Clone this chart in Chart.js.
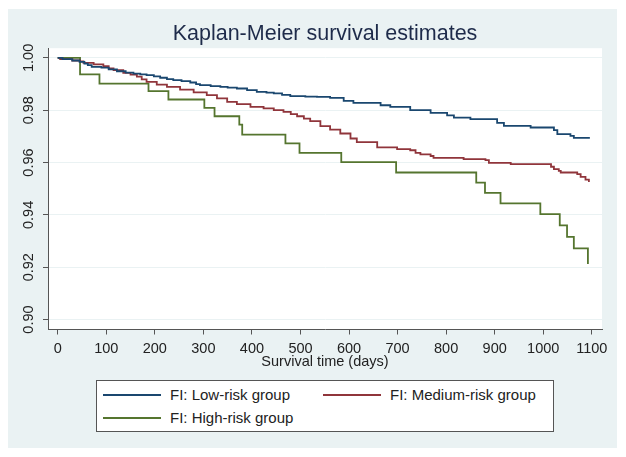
<!DOCTYPE html>
<html><head><meta charset="utf-8">
<script src="https://cdn.jsdelivr.net/npm/chart.js@4/dist/chart.umd.min.js"></script>
<style>
html,body{margin:0;padding:0;background:#fff;}
#wrap{position:relative;width:626px;height:457px;overflow:hidden;}
#bg{position:absolute;left:8px;top:9px;width:609px;height:439px;background:#eaf2f3;}
canvas{position:absolute;left:0;top:0;}
#legend{position:absolute;left:96px;top:380px;width:458px;height:52px;box-sizing:border-box;border:1px solid #555;background:#fff;font-family:"Liberation Sans",Arial,sans-serif;font-size:15px;color:#222;}
.item{position:absolute;height:20px;line-height:20px;white-space:nowrap;}
.swatch{position:absolute;left:0;top:9px;width:58px;height:2px;}
.lab{position:absolute;left:67px;top:0;}
</style></head>
<body>
<div id="wrap">
<div id="bg"></div>
<canvas id="c" width="626" height="457"></canvas>
<div id="legend"></div>
</div>
<script>
const xTickValues = [0,100,200,300,400,500,600,700,800,900,1000,1100];
const yTickValues = [0.90,0.92,0.94,0.96,0.98,1.00];
const yTickLabels = ['0.90','0.92','0.94','0.96','0.98','1.00'];
const seriesNames = ['FI: Low-risk group','FI: Medium-risk group','FI: High-risk group'];
const seriesColors = ['#1a476f','#90353b','#55752f'];

const lowTimes = [0,10,30,45,55,62,70,90,105,122,140,156,170,183,198,211,225,238,255,273,285,293,315,335,350,369,390,410,430,445,462,479,510,534,561,589,609,665,685,726,768,802,816,850,905,919,974,1022,1029,1056,1063,1096];
const lowSurv  = [1.000,0.9995,0.9990,0.9985,0.9978,0.9972,0.9966,0.9963,0.9956,0.9949,0.9944,0.9940,0.9937,0.9934,0.9929,0.9924,0.9919,0.9915,0.9911,0.9906,0.9900,0.9896,0.9892,0.9889,0.9886,0.9883,0.9877,0.9870,0.9867,0.9864,0.9859,0.9854,0.9852,0.9851,0.9847,0.9836,0.9828,0.9819,0.9813,0.9800,0.9790,0.9780,0.9772,0.9766,0.9752,0.9740,0.9734,0.9724,0.9709,0.9702,0.9694,0.9694];

const medTimes = [0,5,30,46,53,74,94,105,115,135,150,163,173,183,204,225,252,280,307,328,349,369,397,424,445,465,480,493,507,520,541,561,582,603,616,658,699,726,737,747,768,774,836,881,888,933,1016,1022,1032,1036,1070,1077,1087,1094];
const medSurv  = [1.000,0.9995,0.9990,0.9987,0.9981,0.9975,0.9968,0.9960,0.9953,0.9943,0.9936,0.9928,0.9918,0.9908,0.9898,0.9889,0.9879,0.9868,0.9858,0.9845,0.9832,0.9823,0.9813,0.9807,0.9800,0.9794,0.9785,0.9777,0.9768,0.9758,0.9739,0.9726,0.9711,0.9692,0.9678,0.9658,0.9651,0.9647,0.9637,0.9631,0.9625,0.9618,0.9613,0.9609,0.9599,0.9594,0.9584,0.9575,0.9568,0.9562,0.9556,0.9545,0.9535,0.9526];

const highTimes = [0,46,86,187,228,302,323,374,380,469,498,584,697,862,880,912,994,1034,1049,1063,1092];
const highSurv  = [1.000,0.9937,0.9902,0.9873,0.9841,0.9809,0.9777,0.9745,0.9707,0.9673,0.9637,0.9602,0.9562,0.9523,0.9484,0.9444,0.9403,0.9360,0.9316,0.9272,0.9212];

function pts(t, s) { return t.map((v, i) => ({x: v, y: s[i]})); }

const FONT = '"Liberation Sans", Arial, sans-serif';
Chart.defaults.font.family = FONT;

const plotBg = {
  id: 'plotBg',
  beforeDraw(chart) {
    const {ctx, chartArea: a} = chart;
    ctx.save();
    ctx.fillStyle = '#ffffff';
    ctx.fillRect(a.left, a.top, a.right - a.left, a.bottom - a.top);
    ctx.restore();
  }
};

const allSeries = [pts(lowTimes, lowSurv), pts(medTimes, medSurv), pts(highTimes, highSurv)];

new Chart(document.getElementById('c'), {
  type: 'line',
  data: {
    datasets: allSeries.map((d, i) => ({
      label: seriesNames[i], data: d, borderColor: seriesColors[i], borderWidth: 1.8,
      stepped: 'before', pointRadius: 0, fill: false
    }))
  },
  options: {
    responsive: false, animation: false, events: [],
    layout: {padding: {left: 0, right: 24, top: 0, bottom: 86.8}},
    plugins: {
      legend: {display: false}, tooltip: {enabled: false},
      title: {display: true, fullSize: false, text: 'Kaplan-Meier survival estimates', color: '#1e2b4a',
        font: {family: FONT, size: 21.5, weight: 'normal'}, padding: {top: 21, bottom: 1.4}}
    },
    scales: {
      x: {
        type: 'linear', min: -20, max: 1121,
        afterBuildTicks: s => { s.ticks = xTickValues.map(v => ({value: v})); },
        afterFit: s => { s.height = 40.7; },
        grid: {drawOnChartArea: false, tickLength: 5, tickColor: '#555', tickWidth: 1},
        border: {display: true, color: '#555', width: 1},
        ticks: {autoSkip: false, maxRotation: 0, minRotation: 0, padding: 6, color: '#222',
          font: {size: 14.5}, callback: (v, i) => String(xTickValues[i])},
        title: {display: true, text: 'Survival time (days)', color: '#222', font: {size: 14.5}, padding: {top: 0, bottom: 0}}
      },
      y: {
        type: 'linear', min: 0.8962, max: 1.0037,
        afterBuildTicks: s => { s.ticks = yTickValues.map(v => ({value: v})); },
        afterFit: s => { s.width = 48; },
        grid: {color: '#eaf2f3', lineWidth: 1, tickLength: 5, tickColor: '#555'},
        border: {display: true, color: '#555', width: 1},
        ticks: {autoSkip: false, minRotation: 90, maxRotation: 90, crossAlign: 'center', padding: 0,
          color: '#222', font: {size: 14.5}, callback: (v, i) => yTickLabels[i]}
      }
    }
  },
  plugins: [plotBg]
});

// legend
const legendPos = [{l: 6, t: 4}, {l: 226, t: 4}, {l: 6, t: 26.5}];
const lg = document.getElementById('legend');
seriesNames.forEach((n, i) => {
  const it = document.createElement('div');
  it.className = 'item';
  it.style.left = legendPos[i].l + 'px';
  it.style.top = legendPos[i].t + 'px';
  const sw = document.createElement('div');
  sw.className = 'swatch';
  sw.style.background = seriesColors[i];
  const lb = document.createElement('span');
  lb.className = 'lab';
  lb.textContent = n;
  it.appendChild(sw); it.appendChild(lb);
  lg.appendChild(it);
});
</script>
</body></html>
